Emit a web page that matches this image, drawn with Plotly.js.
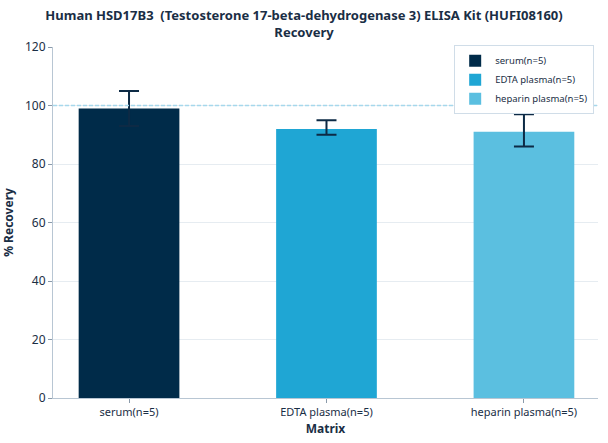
<!DOCTYPE html>
<html><head><meta charset="utf-8">
<script src="https://cdn.plot.ly/plotly-3.0.1.min.js"></script>
<style>html,body{margin:0;padding:0;background:#fff}#chart{width:608px;height:443px}</style>
</head><body><div id="chart"></div>
<script>
const categories = ["serum(n=5)", "EDTA plasma(n=5)", "heparin plasma(n=5)"];
const recovery = [99, 92, 91];
const errPlus = [6, 3, 6];
const errMinus = [6, 2, 5];
const colors = ["#002b49", "#1fa6d4", "#5bbfe0"];
const yTicks = [0, 20, 40, 60, 80, 100, 120];

const traces = categories.map((c, i) => ({
  type: "bar",
  name: c,
  x: [c],
  y: [recovery[i]],
  width: 0.51,
  marker: {color: colors[i], line: {width: 0}},
  error_y: {type: "data", symmetric: false, array: [errPlus[i]], arrayminus: [errMinus[i]],
            color: "#0d2a45", thickness: 2, width: 10}
}));

const layout = {
  width: 608, height: 443,
  margin: {l: 53, r: 10, t: 47, b: 45},
  paper_bgcolor: "#fff", plot_bgcolor: "#fff",
  font: {family: "Noto Sans, Open Sans, sans-serif", color: "#1a2e45", size: 11},
  title: {text: "<b>Human HSD17B3  (Testosterone 17-beta-dehydrogenase 3) ELISA Kit (HUFI08160)<br>Recovery</b>",
          font: {size: 13, color: "#1a2e45"}, x: 0.5, xanchor: "center", yref: "container", y: 0.955, yanchor: "middle"},
  barmode: "overlay",
  showlegend: true,
  legend: {x: 0.993, xanchor: "right", y: 1.005, yanchor: "top", bordercolor: "#d0dde8", borderwidth: 1,
           bgcolor: "#fff", font: {size: 9.5}, tracegroupgap: 0},
  xaxis: {type: "category", range: [-0.385, 2.375], showline: true, linecolor: "#b8c6d3", linewidth: 1,
          ticks: "outside", ticklen: 4, tickcolor: "#8a9aaa", showgrid: false,
          title: {text: "<b>Matrix</b>", font: {size: 12}, standoff: 6}},
  yaxis: {range: [0, 120], tickvals: yTicks, showline: true, linecolor: "#b8c6d3", linewidth: 1,
          ticks: "outside", ticklen: 4, tickcolor: "#8a9aaa", gridcolor: "#e6ecf1", zeroline: false,
          tickfont: {size: 12},
          title: {text: "<b>% Recovery</b>", font: {size: 12}, standoff: 8}},
  shapes: [{type: "line", xref: "paper", x0: 0, x1: 1, yref: "y", y0: 100, y1: 100,
            line: {color: "#a6d8ec", width: 1.5, dash: "4px,2px"}}]
};
Plotly.newPlot("chart", traces, layout, {displayModeBar: false});
</script></body></html>
